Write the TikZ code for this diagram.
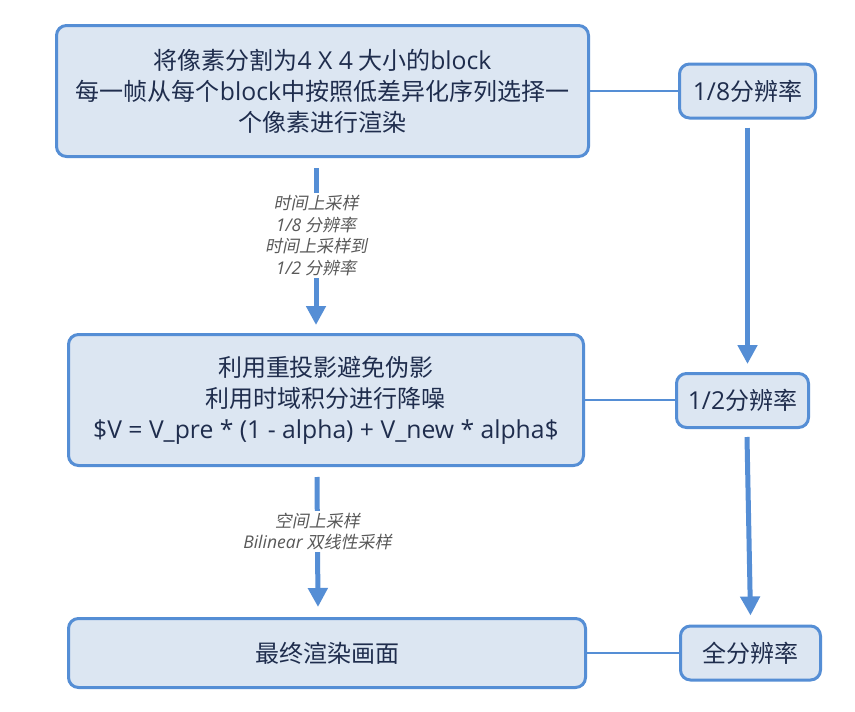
\documentclass[tikz,border=0pt]{standalone}
\usepackage{fontspec}
\setmainfont{Noto Sans CJK SC}
\newfontfamily\labfont[FakeSlant=0.2]{Noto Sans CJK SC}
\newfontfamily\lat[Scale=1.03]{Open Sans}
\newcommand{\latw}[1]{{\lat #1}}
\newcommand{\latwi}[1]{{\lat\itshape #1}}
\usetikzlibrary{arrows.meta}
\definecolor{boxfill}{HTML}{DCE6F2}
\definecolor{boxline}{HTML}{558ED5}
\definecolor{txt}{HTML}{1F2D4D}
\definecolor{labtxt}{HTML}{595959}
\begin{document}
\begin{tikzpicture}[x=1pt,y=-1pt,
  box/.style={draw=boxline, line width=3pt, fill=boxfill, rounded corners=10pt, text=txt,
    font=\fontsize{24}{31}\selectfont, align=center, inner sep=0pt},
  link/.style={draw=boxline, line width=1.5pt},
  arr/.style={draw=boxline, line width=5pt, -{Triangle[width=19pt,length=19pt]}},
  lab/.style={fill=white, text=labtxt, font=\labfont\fontsize{17}{21.5}\selectfont,
    align=center, inner sep=2pt}]
\useasboundingbox (0,0) rectangle (855,712);
\fill[white] (0,0) rectangle (855,712);

\node[box, minimum width=532pt, minimum height=131pt] (top) at (322.5,91)
  {将像素分割为\latw{4 X 4} 大小的\latw{block}\\每一帧从每个\latw{block}中按照低差异化序列选择一\\个像素进行渲染};
\node[box, minimum width=515pt, minimum height=131pt] (mid) at (326,400)
  {利用重投影避免伪影\\利用时域积分进行降噪\\\latw{\$V = V\_pre * (1 - alpha) + V\_new * alpha\$}};
\node[box, minimum width=517pt, minimum height=69pt] (bot) at (327,653) {最终渲染画面};

\node[box, minimum width=136pt, minimum height=54pt] (r1) at (747.5,91) {\latw{1/8}分辨率};
\node[box, minimum width=132pt, minimum height=54pt] (r2) at (742.5,400.5) {\latw{1/2}分辨率};
\node[box, minimum width=140pt, minimum height=54pt] (r3) at (750.5,653) {全分辨率};

\draw[link] (top.east) -- (top.east -| r1.west);
\draw[link] (mid.east) -- (mid.east -| r2.west);
\draw[link] (bot.east) -- (bot.east -| r3.west);

\draw[arr] ([xshift=-6.5pt,yshift=-10pt]top.south) -- ([xshift=-10pt,yshift=8pt]mid.north)
  node[lab, pos=0.43] (l1) {时间上采样\\\latwi{1/8} 分辨率\\时间上采样到\\\latwi{1/2} 分辨率};
\draw[arr] ([xshift=-9pt,yshift=-10pt]mid.south) -- ([xshift=-9pt,yshift=10pt]bot.north)
  node[lab, pos=0.42] (l2) {空间上采样\\\latwi{Bilinear} 双线性采样};

\draw[arr] ([yshift=-8pt]r1.south) -- ([xshift=5pt,yshift=8pt]r2.north);
\draw[arr] ([xshift=4.5pt,yshift=-8pt]r2.south) -- ([yshift=9pt]r3.north);
\end{tikzpicture}
\end{document}
